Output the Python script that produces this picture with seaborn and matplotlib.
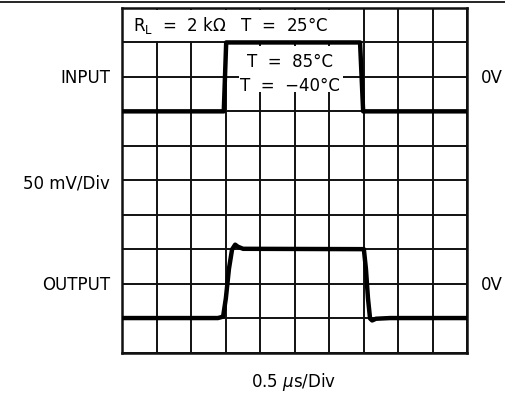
import matplotlib
matplotlib.use("Agg")
import matplotlib.pyplot as plt
import seaborn as sns
import pandas as pd
from matplotlib.lines import Line2D
from matplotlib.patches import Rectangle

# Data (time and level in screen divisions)
input_t = [0.0, 2.95, 3.02, 6.9, 6.99, 10.0]
input_v = [7.0, 7.0, 9.0, 9.0, 7.0, 7.0]
output_t = [0.0, 2.78, 2.93, 3.01, 3.10, 3.19, 3.28, 3.36, 3.51, 7.01, 7.07, 7.13, 7.19, 7.25, 7.36, 7.77, 10.0]
output_v = [1.0, 1.0, 1.04, 1.57, 2.43, 2.99, 3.13, 3.07, 3.01, 3.0, 2.43, 1.57, 0.99, 0.93, 0.98, 1.0, 1.0]

sns.set_style("white")
plt.rcParams['font.family'] = ['DejaVu Sans']
plt.rcParams['mathtext.fontset'] = 'dejavusans'
plt.rcParams['text.color'] = 'black'

W, H = 505, 402
fig = plt.figure(figsize=(W / 100, H / 100), dpi=100)
L, R, T, B = 122, 467, 9, 353.5
ax = fig.add_axes([L / W, 1 - B / H, (R - L) / W, (B - T) / H])
ax.set_xlim(0, 10)
ax.set_ylim(0, 10)
ax.set_xticks(range(11))
ax.set_yticks(range(11))
ax.grid(True, color="#111111", linewidth=1.4)
ax.tick_params(length=0, labelleft=False, labelbottom=False)
for s in ax.spines.values():
    s.set_color("#111111")
    s.set_linewidth(1.8)
    s.set_visible(True)

# white areas behind annotations
ax.add_patch(Rectangle((0.06, 9.05), 6.9, 0.9, facecolor="white", edgecolor="none", zorder=2.5))
ax.add_patch(Rectangle((3.4, 7.55), 3.0, 1.35, facecolor="white", edgecolor="none", zorder=2.5))

df_in = pd.DataFrame({"t": input_t, "v": input_v})
df_out = pd.DataFrame({"t": output_t, "v": output_v})
sns.lineplot(data=df_in, x="t", y="v", ax=ax, color="black", linewidth=3.2, sort=False, zorder=3)
sns.lineplot(data=df_out, x="t", y="v", ax=ax, color="black", linewidth=3.2, sort=False, zorder=3)
ax.set_xlabel("")
ax.set_ylabel("")

def px(x, y):
    return x / W, 1 - y / H

fs = 12
kw = dict(fontsize=fs, color="black")
fig.text(*px(133, 25), "R$_\\mathregular{L}$  =  2 k\u03a9   T  =  25\u00b0C", ha="left", va="center", **kw)
fig.text(*px(290, 62), "T  =  85\u00b0C", ha="center", va="center", **kw)
fig.text(*px(290, 86), "T  =  \u221240\u00b0C", ha="center", va="center", **kw)
fig.text(*px(110, 78), "INPUT", ha="right", va="center", **kw)
fig.text(*px(110, 184), "50 mV/Div", ha="right", va="center", **kw)
fig.text(*px(110, 285), "OUTPUT", ha="right", va="center", **kw)
fig.text(*px(481, 78), "0V", ha="left", va="center", **kw)
fig.text(*px(481, 285), "0V", ha="left", va="center", **kw)
fig.text(*px(294, 382), "0.5 $\\mu$s/Div", ha="center", va="center", **kw)

fig.add_artist(Line2D([0, 1], [1 - 3 / H, 1 - 3 / H], color="black", linewidth=1.2))

fig.savefig("out.png", dpi=100)
